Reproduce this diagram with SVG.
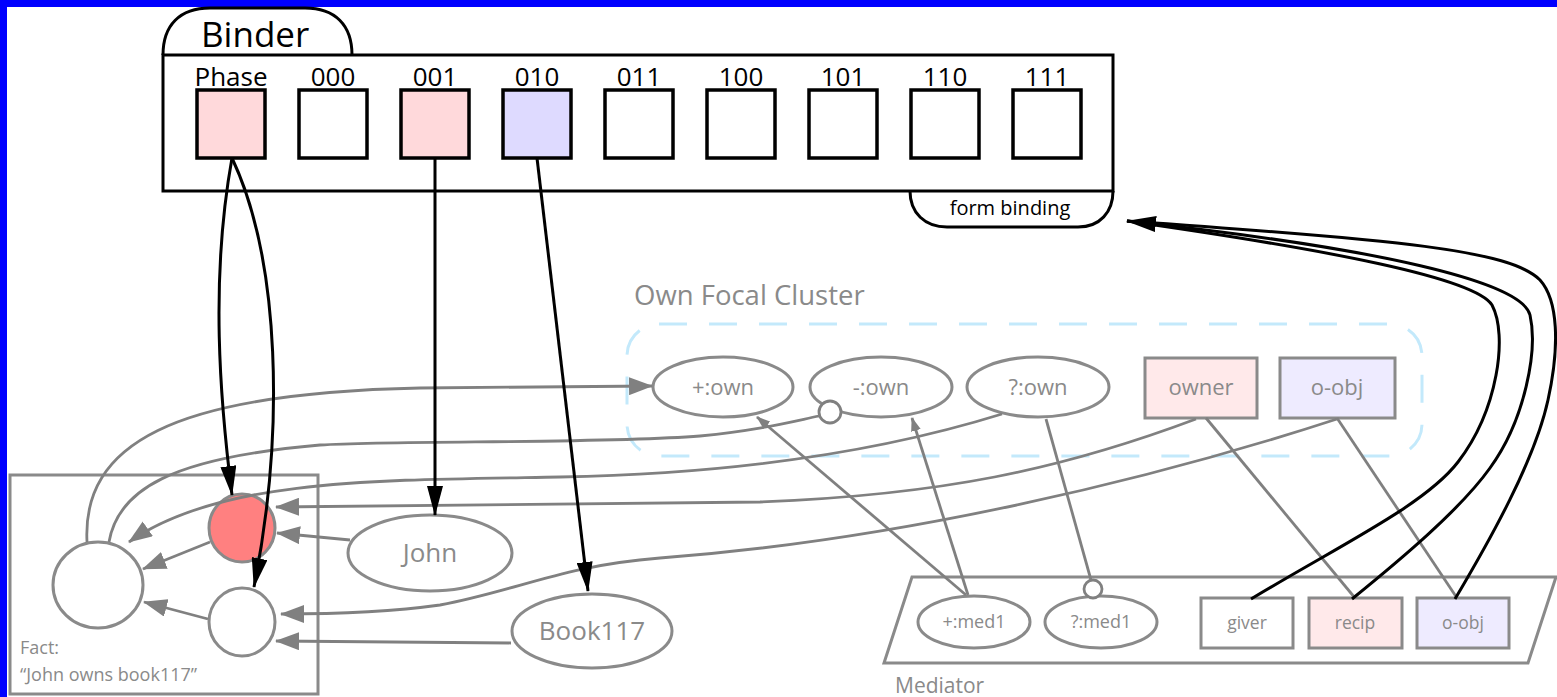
<svg xmlns="http://www.w3.org/2000/svg" width="1557" height="697" viewBox="0 0 1557 697">
  <style>
    text { font-family: "Open Sans", "Liberation Sans", sans-serif; }
    .blk { fill: #000; }
    .gtx { fill: #8a8a8a; }
    .slot { stroke: #000; stroke-width: 3.5; }
    .frame { fill: #fff; stroke: #000; stroke-width: 3; }
    .gnode { fill: #fff; stroke: #8a8a8a; stroke-width: 3; }
    .gline { fill: none; stroke: #808080; stroke-width: 2.8; }
    .bline { fill: none; stroke: #000; stroke-width: 3; }
  </style>
  <defs>
    <marker id="ahBlack" markerUnits="userSpaceOnUse" viewBox="0 0 30 16" markerWidth="30" markerHeight="16" refX="29" refY="8" orient="auto">
      <path d="M0,0 L30,8 L0,16 Z" fill="#000"/>
    </marker>
    <marker id="ahGray" markerUnits="userSpaceOnUse" viewBox="0 0 24 18" markerWidth="24" markerHeight="18" refX="23" refY="9" orient="auto">
      <path d="M0,0 L24,9 L0,18 Z" fill="#808080"/>
    </marker>
    <marker id="ahGraySmall" markerUnits="userSpaceOnUse" viewBox="0 0 14 10" markerWidth="14" markerHeight="10" refX="13" refY="5" orient="auto">
      <path d="M0,0 L14,5 L0,10 Z" fill="#808080"/>
    </marker>
  </defs>

  <!-- page background and blue frame edges -->
  <rect x="0" y="0" width="1557" height="697" fill="#fff"/>
  <rect x="0" y="0" width="1557" height="7" fill="#0000ff"/>
  <rect x="0" y="0" width="7" height="697" fill="#0000ff"/>

  <!-- Binder with its slots -->
  <g id="binder">
    <path class="frame" d="M163,55 C163,25 180,8 210,8 L305,8 C335,8 352,25 352,55"/>
    <path class="frame" d="M910,191 C910,213 925,227 947,227 L1078,227 C1100,227 1113,212 1113,191"/>
    <rect class="frame" x="163" y="55" width="950" height="136"/>
    <text class="blk" x="201" y="47" font-size="35">Binder</text>
    <text class="blk" x="1010" y="215" font-size="20" text-anchor="middle">form binding</text>
  </g>
  <g id="slot-phase"><rect class="slot" x="197" y="90" width="68" height="68" fill="#ffd9db"/><text class="blk" x="231" y="86" font-size="26" text-anchor="middle">Phase</text></g>
  <g id="slot-000"><rect class="slot" x="299" y="90" width="68" height="68" fill="#fff"/><text class="blk" x="333" y="86" font-size="26" text-anchor="middle">000</text></g>
  <g id="slot-001"><rect class="slot" x="401" y="90" width="68" height="68" fill="#ffd9db"/><text class="blk" x="435" y="86" font-size="26" text-anchor="middle">001</text></g>
  <g id="slot-010"><rect class="slot" x="503" y="90" width="68" height="68" fill="#dedaff"/><text class="blk" x="537" y="86" font-size="26" text-anchor="middle">010</text></g>
  <g id="slot-011"><rect class="slot" x="605" y="90" width="68" height="68" fill="#fff"/><text class="blk" x="639" y="86" font-size="26" text-anchor="middle">011</text></g>
  <g id="slot-100"><rect class="slot" x="707" y="90" width="68" height="68" fill="#fff"/><text class="blk" x="741" y="86" font-size="26" text-anchor="middle">100</text></g>
  <g id="slot-101"><rect class="slot" x="809" y="90" width="68" height="68" fill="#fff"/><text class="blk" x="843" y="86" font-size="26" text-anchor="middle">101</text></g>
  <g id="slot-110"><rect class="slot" x="911" y="90" width="68" height="68" fill="#fff"/><text class="blk" x="945" y="86" font-size="26" text-anchor="middle">110</text></g>
  <g id="slot-111"><rect class="slot" x="1013" y="90" width="68" height="68" fill="#fff"/><text class="blk" x="1047" y="86" font-size="26" text-anchor="middle">111</text></g>

  <!-- Fact container -->
  <g id="fact">
    <rect x="10" y="475" width="308" height="219" fill="#fff" stroke="#8a8a8a" stroke-width="3"/>
    <text class="gtx" x="20" y="654" font-size="18">Fact:</text>
    <text class="gtx" x="20" y="681" font-size="18">“John owns book117”</text>
  </g>

  <!-- Own Focal Cluster container -->
  <g id="own-focal-cluster">
    <rect x="627" y="324" width="795" height="132" rx="32" fill="none" stroke="#c3e9fb" stroke-width="3" stroke-dasharray="28 22"/>
    <text class="gtx" x="634" y="305" font-size="27.5">Own Focal Cluster</text>
  </g>

  <!-- Mediator container -->
  <g id="mediator">
    <path d="M912,577 L1556,577 L1528,663 L884,663 Z" fill="#fff" stroke="#8a8a8a" stroke-width="3"/>
    <text class="gtx" x="895" y="693" font-size="21">Mediator</text>
  </g>

  <!-- Fact nodes -->
  <g id="fact-root"><ellipse class="gnode" cx="98" cy="585" rx="45" ry="43"/></g>
  <g id="fact-phase"><ellipse class="gnode" cx="242" cy="528" rx="33" ry="34" style="fill:#ff8080"/></g>
  <g id="fact-arg"><ellipse class="gnode" cx="242" cy="622" rx="33" ry="34"/></g>

  <!-- Entity nodes -->
  <g id="john"><ellipse class="gnode" cx="430" cy="553" rx="82" ry="38"/><text class="gtx" x="430" y="562" font-size="26" text-anchor="middle">John</text></g>
  <g id="book117"><ellipse class="gnode" cx="592" cy="631" rx="80" ry="37"/><text class="gtx" x="592" y="640" font-size="26" text-anchor="middle">Book117</text></g>

  <!-- Cluster nodes -->
  <g id="plus-own"><ellipse class="gnode" cx="723" cy="387" rx="70" ry="30"/><text class="gtx" x="723" y="395" font-size="22" text-anchor="middle">+:own</text></g>
  <g id="minus-own"><ellipse class="gnode" cx="881" cy="387" rx="71" ry="30"/><text class="gtx" x="881" y="395" font-size="22" text-anchor="middle">-:own</text></g>
  <g id="query-own"><ellipse class="gnode" cx="1038" cy="387" rx="71" ry="30"/><text class="gtx" x="1038" y="395" font-size="22" text-anchor="middle">?:own</text></g>
  <g id="owner"><rect class="gnode" x="1145" y="358" width="112" height="60" style="fill:#ffe9ea"/><text class="gtx" x="1201" y="395" font-size="22" text-anchor="middle">owner</text></g>
  <g id="o-obj"><rect class="gnode" x="1280" y="358" width="115" height="60" style="fill:#eeebff"/><text class="gtx" x="1337" y="395" font-size="22" text-anchor="middle">o-obj</text></g>

  <!-- Mediator nodes -->
  <g id="plus-med1"><ellipse class="gnode" cx="974" cy="622" rx="56" ry="26"/><text class="gtx" x="974" y="628" font-size="18" text-anchor="middle">+:med1</text></g>
  <g id="query-med1"><ellipse class="gnode" cx="1101" cy="622" rx="56" ry="26"/><text class="gtx" x="1101" y="628" font-size="18" text-anchor="middle">?:med1</text></g>
  <g id="giver"><rect class="gnode" x="1201" y="598" width="92" height="50"/><text class="gtx" x="1247" y="629" font-size="17.5" text-anchor="middle">giver</text></g>
  <g id="recip"><rect class="gnode" x="1309" y="598" width="93" height="50" style="fill:#ffe9ea"/><text class="gtx" x="1355" y="629" font-size="17.5" text-anchor="middle">recip</text></g>
  <g id="med-o-obj"><rect class="gnode" x="1417" y="598" width="92" height="50" style="fill:#eeebff"/><text class="gtx" x="1463" y="629" font-size="17.5" text-anchor="middle">o-obj</text></g>

  <!-- Connectors -->
  <g id="connectors">
    <!-- gray links between fact, entities and cluster -->
    <path class="gline" d="M87,542 C82,445 170,393 420,388 L652,386" marker-end="url(#ahGray)"/>
    <path class="gline" d="M109,542 C118,490 170,458 320,445 C400,440 600,444 700,436 C760,430 790,422 819,416"/>
    <circle cx="830" cy="412" r="11" fill="#fff" stroke="#808080" stroke-width="2.8"/>
    <path class="gline" d="M1002,414 C870,455 720,474 560,477 C380,480 220,478 129,542" marker-end="url(#ahGray)"/>
    <path class="gline" d="M1196,419 C1060,470 940,495 760,502 L276,507" marker-end="url(#ahGray)"/>
    <path class="gline" d="M1337,419 C1150,480 900,540 660,558 C560,566 520,590 440,605 C390,612 330,614 281,614" marker-end="url(#ahGray)"/>
    <path class="gline" d="M350,540 L277,533" marker-end="url(#ahGray)"/>
    <path class="gline" d="M511,643 L276,641" marker-end="url(#ahGray)"/>
    <path class="gline" d="M210,542 L143,569" marker-end="url(#ahGray)"/>
    <path class="gline" d="M208,619 L144,602" marker-end="url(#ahGray)"/>

    <!-- gray links between mediator and cluster -->
    <path class="gline" d="M966,595 L757,417" marker-end="url(#ahGraySmall)"/>
    <path class="gline" d="M968,595 L912,418" marker-end="url(#ahGraySmall)"/>
    <path class="gline" d="M1046,419 L1091,580"/>
    <circle cx="1093" cy="589" r="9" fill="#fff" stroke="#808080" stroke-width="2.8"/>
    <path class="gline" d="M1206,418 L1355,598"/>
    <path class="gline" d="M1337,418 L1457,598"/>

    <!-- black binder links -->
    <path class="bline" d="M232,158 C210,280 220,400 232,495" marker-end="url(#ahBlack)"/>
    <path class="bline" d="M232,158 C280,260 285,430 254,587" marker-end="url(#ahBlack)"/>
    <path class="bline" d="M435,158 L435,515" marker-end="url(#ahBlack)"/>
    <path class="bline" d="M537,158 L588,591" marker-end="url(#ahBlack)"/>

    <!-- black form binding links from mediator roles -->
    <path class="bline" d="M1251,599 C1340,545 1425,505 1458,462 C1498,410 1508,335 1492,305 C1475,278 1330,250 1127,221"/>
    <path class="bline" d="M1352,599 C1400,560 1460,510 1490,468 C1525,420 1538,350 1530,315 C1522,282 1380,248 1127,221" marker-end="url(#ahBlack)"/>
    <path class="bline" d="M1455,599 C1490,540 1535,460 1548,400 C1560,345 1558,300 1540,280 C1510,250 1400,240 1127,221"/>
  </g>
</svg>
